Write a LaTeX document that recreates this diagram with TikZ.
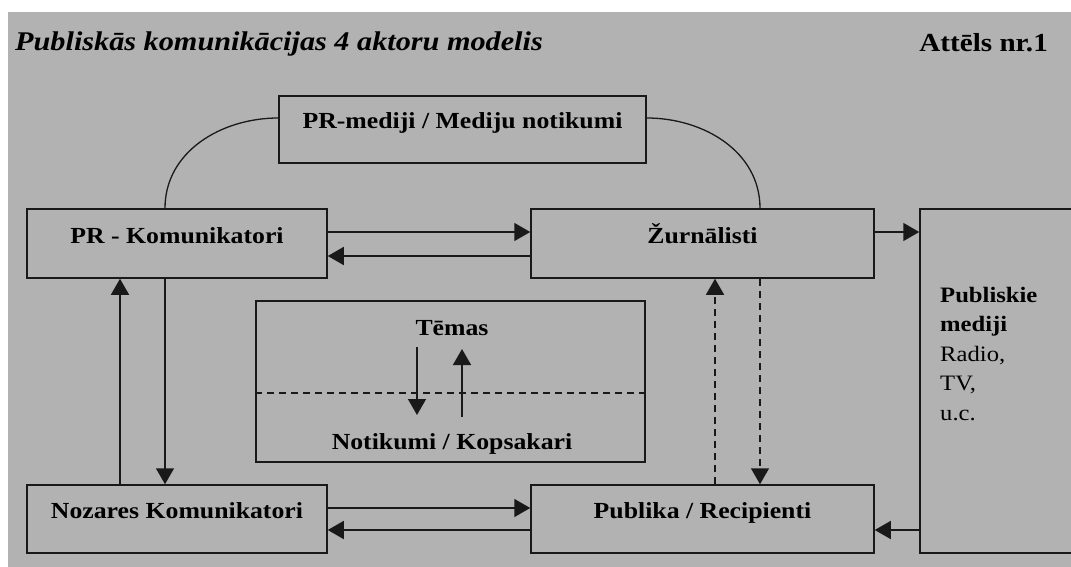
\documentclass[tikz,border=0pt]{standalone}
\usepackage{fontspec}
\setmainfont{Liberation Serif}[FakeStretch=1.12]
\usetikzlibrary{arrows.meta, positioning}
\definecolor{PanelGray}{RGB}{178,178,178}
\definecolor{InkBlack}{RGB}{25,25,25}

\begin{document}
\begin{tikzpicture}[x=1pt,y=-1pt,
        box/.style={draw=InkBlack,line width=1.5pt,inner sep=0pt,
                    font=\fontsize{23}{27}\selectfont\bfseries,
                    text height=15pt,text depth=16pt},
        lbl/.style={inner sep=0pt,font=\fontsize{23}{27}\selectfont\bfseries},
        link/.style={line width=1.3pt,InkBlack},
        arrow/.style={-{Triangle[length=16pt,width=18pt]},line width=1.5pt,InkBlack},
        darrow/.style={arrow,dash pattern=on 7pt off 5pt},
        dline/.style={line width=1.3pt,InkBlack,dash pattern=on 7pt off 5pt}]
        \useasboundingbox (0,0) rectangle (1071,567);
        \fill[white] (0,0) rectangle (1071,567);
        \fill[PanelGray] (8,12) rectangle (1071,567);

        \node[anchor=base west,inner sep=0pt,font=\fontsize{27}{31}\selectfont\bfseries\itshape] (title) at (15,51) {Publiskās komunikācijas 4 aktoru modelis};
        \node[anchor=base east,inner sep=0pt,font=\fontsize{26}{30}\selectfont\bfseries] (fig) at (1048,52) {Attēls nr.1};

        \node[box,minimum width=367,minimum height=67] (media) at (462.5,129.5) {PR-mediji / Mediju notikumi};
        \node[box,minimum width=300,minimum height=69] (prk)  at (177,243.5)   {PR - Komunikatori};
        \node[box,minimum width=343,minimum height=69] (zur)  at (702.5,243.5) {Žurnālisti};
        \node[box,minimum width=300,minimum height=68] (noz)  at (177,519)     {Nozares Komunikatori};
        \node[box,minimum width=343,minimum height=68] (pubr) at (702.5,519)   {Publika / Recipienti};
        \node[box,minimum width=170,minimum height=344] (pub) at (1005,381)    {};
        \node[box,minimum width=389,minimum height=161] (mid) at (450.5,381.5) {};

        \node[anchor=north west,align=left,inner sep=0pt,font=\fontsize{22}{29.5}\selectfont] (publbl) at (940,287)
            {\textbf{Publiskie}\\\textbf{mediji}\\Radio,\\TV,\\u.c.};

        % Temas / Notikumi
        \node[lbl,anchor=base] (temas) at (452,335) {Tēmas};
        \node[lbl,anchor=base] (notik) at (452,449) {Notikumi / Kopsakari};
        \draw[dline] ([yshift=-11.5pt]mid.west) -- ([yshift=-11.5pt]mid.east);
        \coordinate (down1) at (417,347); \coordinate (down2) at (417,415);
        \coordinate (up1) at (462,417);   \coordinate (up2) at (462,349);
        \draw[arrow] (down1) -- (down2);
        \draw[arrow] (up1) -- (up2);

        \draw[link] ([yshift=11.5pt]media.west) to[out=180,in=90] ([xshift=-12pt]prk.north);
        \draw[link] ([yshift=11.5pt]media.east) to[out=0,in=90] ([xshift=57.5pt]zur.north);

        \draw[arrow] ([yshift=11.5pt]prk.east) -- ([yshift=11.5pt]zur.west);
        \draw[arrow] ([yshift=-12.5pt]zur.west) -- ([yshift=-12.5pt]prk.east);
        \draw[arrow] ([yshift=11pt]noz.east) -- ([yshift=11pt]pubr.west);
        \draw[arrow] ([yshift=-11pt]pubr.west) -- ([yshift=-11pt]noz.east);
        \draw[arrow] ([yshift=11.5pt]zur.east) -- ([yshift=11.5pt]zur.east -| pub.west);
        \draw[arrow] ([yshift=-11pt]pubr.east -| pub.west) -- ([yshift=-11pt]pubr.east);

        \draw[arrow] ([xshift=-57pt]noz.north) -- ([xshift=-57pt]prk.south);
        \draw[arrow] ([xshift=-12pt]prk.south) -- ([xshift=-12pt]noz.north);
        \draw[darrow] ([xshift=12.5pt]pubr.north) -- ([xshift=12.5pt]zur.south);
        \draw[darrow] ([xshift=57.5pt]zur.south) -- ([xshift=57.5pt]pubr.north);
\end{tikzpicture}
\end{document}
